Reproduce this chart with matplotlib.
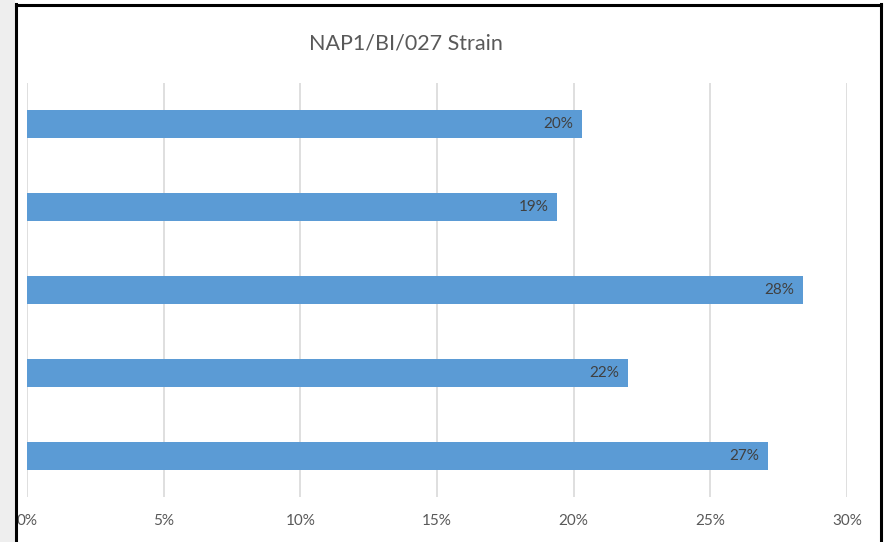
import matplotlib.pyplot as plt
from matplotlib.lines import Line2D
from matplotlib.patches import Rectangle
from matplotlib.ticker import PercentFormatter

plt.rcParams['font.family'] = ['Lato', 'DejaVu Sans']

# Share of cases per bar, top to bottom
categories = ['', '', '', '', '']
values = [0.203, 0.194, 0.284, 0.220, 0.271]
x_ticks = [0, 0.05, 0.10, 0.15, 0.20, 0.25, 0.30]
title = 'NAP1/BI/027 Strain'

bar_color = '#5B9BD5'
grid_color = '#D9D9D9'

W, H = 884, 542
fig = plt.figure(figsize=(W / 100, H / 100), dpi=100)

# gray slide margin on the left and the black frame of the chart box
fig.add_artist(Rectangle((0, 0), 15 / W, 1, transform=fig.transFigure,
                         facecolor='#EEEEEE', edgecolor='none', zorder=0))
frame = dict(color='black', linewidth=2.2, transform=fig.transFigure, zorder=5)
fig.add_artist(Line2D([15.5 / W, 15.5 / W], [0, 1 - 4 / H], **frame))
fig.add_artist(Line2D([880.5 / W, 880.5 / W], [0, 1 - 4 / H], **frame))
fig.add_artist(Line2D([15.5 / W, 880.5 / W], [1 - 5 / H, 1 - 5 / H], **frame))

ax = fig.add_axes([27 / W, 45 / H, 820 / W, 414 / H])
pos = list(range(len(values)))
ax.barh(pos, values, height=0.34, color=bar_color, zorder=2)
ax.set_ylim(len(values) - 0.5, -0.5)
ax.set_yticks(pos)
ax.set_yticklabels(categories)
ax.tick_params(axis='y', length=0)

ax.set_xlim(0, 0.30)
ax.set_xticks(x_ticks)
ax.xaxis.set_major_formatter(PercentFormatter(1.0, decimals=0))
ax.tick_params(axis='x', length=0, pad=12, labelsize=11, labelcolor='#595959')
ax.grid(axis='x', color=grid_color, linewidth=1.2, zorder=0)
for s in ax.spines.values():
    s.set_visible(False)

for p, v in zip(pos, values):
    ax.annotate(f'{v:.0%}', xy=(v, p), xytext=(-9, 0), textcoords='offset pixels',
                ha='right', va='center', fontsize=11, color='#404040', zorder=3)

fig.text(406 / W, 1 - 43 / H, title, ha='center', va='center',
         fontsize=15.5, color='#595959')

fig.savefig('out.png', dpi=100)
